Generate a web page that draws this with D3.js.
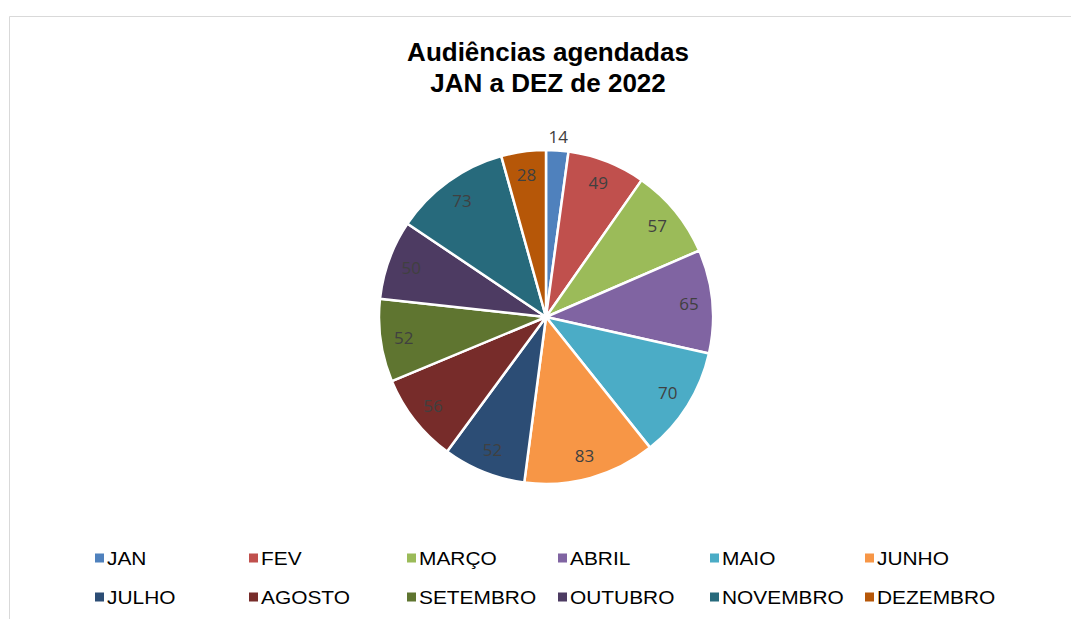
<!DOCTYPE html>
<html>
<head>
<meta charset="utf-8">
<script src="https://cdn.jsdelivr.net/npm/d3@7"></script>
<style>
  body { margin: 0; background: #fff; }
</style>
</head>
<body>
<div id="chart"></div>
<script>
var svgWidth = 1071;
var svgHeight = 619;

// data (JUL, AGO, OUT labels are hidden, estimated from angles)
var months = ["JAN", "FEV", "MARÇO", "ABRIL", "MAIO", "JUNHO",
  "JULHO", "AGOSTO", "SETEMBRO", "OUTUBRO", "NOVEMBRO", "DEZEMBRO"];
var hearings = [14, 49, 57, 65, 70, 83, 52, 56, 52, 50, 73, 28];
var colors = ["#4F81BD", "#C0504D", "#9BBB59", "#8064A2", "#4BACC6", "#F79646",
  "#2C4D75", "#772C2A", "#5F7530", "#4D3B62", "#276A7C", "#B65708"];
var titleLines = ["Audiências agendadas", "JAN a DEZ de 2022"];

var center = { x: 546, y: 317 };
var radius = 167;

var svg = d3.select("#chart")
  .append("svg")
  .attr("width", svgWidth)
  .attr("height", svgHeight);

// chart area frame (only top and left edges are visible)
svg.append("path")
  .attr("d", "M9.5,619 V16.5 H1071")
  .attr("fill", "none")
  .attr("stroke", "#d9d9d9")
  .attr("stroke-width", 1);

// title
svg.append("g").selectAll("text")
  .data(titleLines)
  .enter()
  .append("text")
  .attr("x", 548)
  .attr("y", (d, i) => 61 + i * 31)
  .attr("text-anchor", "middle")
  .attr("font-family", "Liberation Sans, Arial, sans-serif")
  .attr("font-weight", "bold")
  .attr("font-size", 26)
  .attr("fill", "#000")
  .text(d => d);

var table = months.map((m, i) => ({ month: m, value: hearings[i] }));

var color = d3.scaleOrdinal().domain(months).range(colors);

var pie = d3.pie().sort(null).value(d => d.value);
var arcs = pie(table);

var arc = d3.arc().innerRadius(0).outerRadius(radius);
var labelArc = d3.arc().innerRadius(radius * 0.86).outerRadius(radius * 0.86);
var outerArc = d3.arc().innerRadius(radius + 14).outerRadius(radius + 14);

var pieGroup = svg.append("g")
  .attr("transform", `translate(${center.x}, ${center.y})`);

pieGroup.selectAll("path")
  .data(arcs)
  .enter()
  .append("path")
  .attr("d", arc)
  .attr("fill", d => color(d.data.month))
  .attr("stroke", "#fff")
  .attr("stroke-width", 2.5)
  .attr("stroke-linejoin", "round");

// labels: inside end, or outside when the slice is too thin
pieGroup.selectAll("text")
  .data(arcs)
  .enter()
  .append("text")
  .attr("transform", d => {
    var p = (d.endAngle - d.startAngle) < 0.2 ? outerArc.centroid(d) : labelArc.centroid(d);
    return `translate(${p[0]}, ${p[1]})`;
  })
  .attr("text-anchor", "middle")
  .attr("dy", "0.36em")
  .attr("font-family", "Open Sans, sans-serif")
  .attr("font-size", 17)
  .attr("fill", "#404040")
  .text(d => d.data.value);

// legend, two rows of six
var legendCols = [95, 249, 407, 558, 710, 865];
var legendRows = [558, 597];

var legend = svg.append("g").selectAll("g")
  .data(table)
  .enter()
  .append("g")
  .attr("transform", (d, i) => `translate(${legendCols[i % 6]}, ${legendRows[Math.floor(i / 6)]})`);

legend.append("rect")
  .attr("x", 0)
  .attr("y", -4.5)
  .attr("width", 9)
  .attr("height", 9)
  .attr("fill", d => color(d.month));

legend.append("text")
  .attr("transform", "translate(12, 6.5) scale(1.13, 1)")
  .attr("font-family", "Liberation Sans, Arial, sans-serif")
  .attr("font-size", 18.5)
  .attr("fill", "#000")
  .text(d => d.month);
</script>
</body>
</html>
